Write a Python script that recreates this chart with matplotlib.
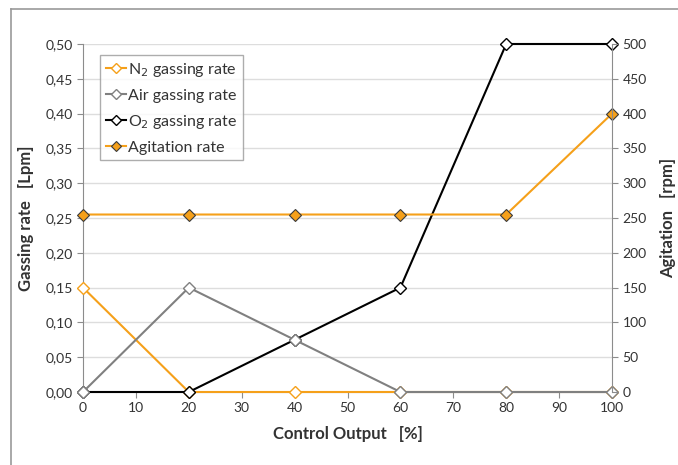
import matplotlib
matplotlib.use("Agg")
import matplotlib.pyplot as plt
from matplotlib.lines import Line2D
from matplotlib.ticker import FuncFormatter, MultipleLocator

plt.rcParams['font.family'] = ['Lato', 'DejaVu Sans']

control_output = [0, 20, 40, 60, 80, 100]
n2_rate = [0.15, 0.0, 0.0, 0.0, 0.0, 0.0]
air_rate = [0.0, 0.15, 0.075, 0.0, 0.0, 0.0]
o2_rate = [0.0, 0.0, 0.075, 0.15, 0.5, 0.5]
agitation = [255, 255, 255, 255, 255, 400]

orange = "#f5a01a"
gray = "#808080"
black = "#000000"
spine_c = "#8c8c8c"
text_c = "#333333"

fig = plt.figure(figsize=(6.78, 4.65), dpi=100)
ax = fig.add_axes([0.1224, 0.157, 0.7803, 0.7484])
ax2 = ax.twinx()

ax.plot(control_output, n2_rate, color=orange, lw=1.5, marker="D", ms=6,
        mfc="white", mec=orange, label="N$_2$ gassing rate", zorder=3, clip_on=False)
ax.plot(control_output, o2_rate, color=black, lw=1.5, marker="D", ms=6,
        mfc="white", mec=black, label="O$_2$ gassing rate", zorder=3, clip_on=False)
ax.plot(control_output, air_rate, color=gray, lw=1.5, marker="D", ms=6,
        mfc="white", mec=gray, label="Air gassing rate", zorder=4, clip_on=False)
ax2.plot(control_output, agitation, color=orange, lw=1.5, marker="D", ms=6,
         mfc=orange, mec="#3a3a3a", mew=0.8, label="Agitation rate", clip_on=False)

ax.set_xlim(0, 100)
ax.set_ylim(0, 0.5)
ax2.set_ylim(0, 500)
ax.xaxis.set_major_locator(MultipleLocator(10))
ax.yaxis.set_major_locator(MultipleLocator(0.05))
ax2.yaxis.set_major_locator(MultipleLocator(50))
ax.yaxis.set_major_formatter(FuncFormatter(lambda v, p: f"{v:.2f}".replace(".", ",")))
ax.grid(axis="y", color="#dddddd", lw=1)
ax.set_axisbelow(True)

for a in (ax, ax2):
    for s in a.spines.values():
        s.set_visible(False)
    a.tick_params(colors=spine_c, labelcolor=text_c, labelsize=10, length=4)
ax.spines["left"].set_visible(True)
ax.spines["left"].set_color(spine_c)
ax2.spines["right"].set_visible(True)
ax2.spines["right"].set_color(spine_c)
ax.spines["bottom"].set_visible(True)
ax.spines["bottom"].set_color(spine_c)

ax.set_xlabel("Control Output   [%]", fontsize=12, fontweight="bold", color=text_c, labelpad=8)
ax.set_ylabel("Gassing rate   [Lpm]", fontsize=12, fontweight="bold", color=text_c, labelpad=8)
ax2.set_ylabel("Agitation   [rpm]", fontsize=12, fontweight="bold", color=text_c, labelpad=10)

h1, l1 = ax.get_legend_handles_labels()
h2, l2 = ax2.get_legend_handles_labels()
order = [0, 2, 1]
handles = [h1[i] for i in order] + h2
labels = [l1[i] for i in order] + l2
leg = ax2.legend(handles, labels, loc="upper left", bbox_to_anchor=(0.032, 0.968),
                 fontsize=11.5, frameon=True, fancybox=False, edgecolor="#999999",
                 handlelength=1.3, handletextpad=0.1, borderpad=0.35, labelspacing=0.62,
                 borderaxespad=0, markerscale=0.9)
leg.set_zorder(10)
for t in leg.get_texts():
    t.set_color(text_c)

fig.add_artist(Line2D([11 / 678, 1], [1 - 9 / 465, 1 - 9 / 465], color="#999999", lw=1.2))
fig.add_artist(Line2D([11 / 678, 11 / 678], [0, 1 - 9 / 465], color="#999999", lw=1.2))

fig.savefig("out.png", dpi=100)
